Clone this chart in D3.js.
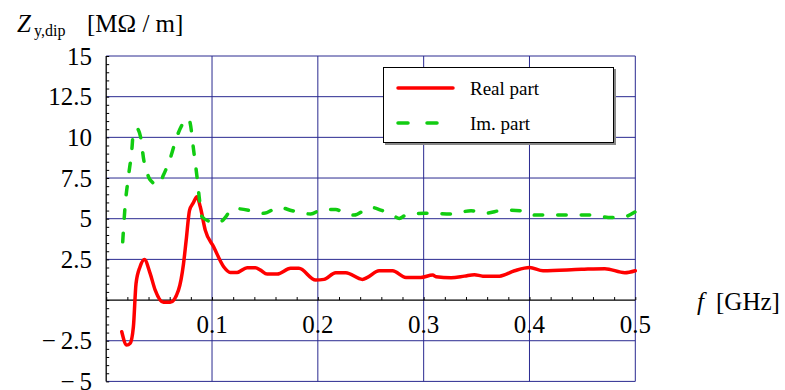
<!DOCTYPE html>
<html>
<head>
<meta charset="utf-8">
<script src="https://cdn.jsdelivr.net/npm/d3@7"></script>
<style>
  body { margin: 0; background: #fff; }
  svg text { font-family: "Liberation Serif", "Times New Roman", serif; fill: #000; }
</style>
</head>
<body>
<svg width="785" height="390"></svg>
<script>
// values
var realF = [0.0147, 0.0194, 0.0226, 0.0257, 0.0282, 0.032, 0.0361, 0.0415, 0.0463, 0.0541, 0.0605, 0.0683, 0.0731, 0.0756, 0.0788, 0.082, 0.0858, 0.0889, 0.0936, 0.1015, 0.111, 0.1173, 0.1237, 0.1332, 0.141, 0.1458, 0.1521, 0.1616, 0.1742, 0.1821, 0.1979, 0.2058, 0.2169, 0.2264, 0.2422, 0.2469, 0.2579, 0.2706, 0.2832, 0.2974, 0.3085, 0.3117, 0.3259, 0.3385, 0.348, 0.3559, 0.3717, 0.3859, 0.4001, 0.4128, 0.4491, 0.4712, 0.4901, 0.5]
var realV = [-1.95, -2.77, -2.66, -1.64, 1.02, 2.05, 2.5, 1.64, 0.61, -0.14, -0.14, 0.61, 2.25, 3.69, 5.53, 5.94, 6.35, 5.73, 4.3, 3.28, 2.05, 1.7, 1.7, 1.99, 1.99, 1.84, 1.6, 1.6, 1.95, 1.95, 1.23, 1.27, 1.68, 1.68, 1.27, 1.39, 1.8, 1.8, 1.39, 1.39, 1.54, 1.43, 1.37, 1.47, 1.56, 1.47, 1.47, 1.8, 2.0, 1.8, 1.89, 1.93, 1.68, 1.8]

var imF = [0.0156, 0.0178, 0.021, 0.0242, 0.0257, 0.0289, 0.0336, 0.0346, 0.0384, 0.0415, 0.0494, 0.0541, 0.0605, 0.0668, 0.0716, 0.0778, 0.0794, 0.0826, 0.0858, 0.0882, 0.0905, 0.0984, 0.1031, 0.1095, 0.1205, 0.141, 0.149, 0.1632, 0.1758, 0.1932, 0.2043, 0.2169, 0.2264, 0.2342, 0.25, 0.2595, 0.2721, 0.2769, 0.2832, 0.3006, 0.3259, 0.3448, 0.3574, 0.3764, 0.3954, 0.4048, 0.4301, 0.4617, 0.4744, 0.487, 0.4996]
var imV = [3.58, 5.73, 7.58, 9.22, 10.34, 10.55, 9.63, 9.02, 7.89, 7.38, 7.07, 7.68, 8.71, 10.04, 10.76, 11.17, 10.86, 9.22, 7.58, 6.15, 5.12, 4.81, 4.71, 4.87, 5.63, 5.43, 5.33, 5.7, 5.49, 5.29, 5.57, 5.57, 5.29, 5.22, 5.7, 5.53, 5.16, 5.02, 5.22, 5.33, 5.29, 5.49, 5.33, 5.53, 5.47, 5.22, 5.22, 5.22, 5.08, 5.08, 5.41]

var xTicks = [0.1, 0.2, 0.3, 0.4, 0.5]
var yTicks = [15, 12.5, 10, 7.5, 5, 2.5, -2.5, -5]
var seriesNames = ["Real part", "Im. part"]

var svg = d3.select("svg")

var xScale = d3.scaleLinear().domain([0, 0.5]).range([106.2, 635.3])
var yScale = d3.scaleLinear().domain([-5, 15]).range([381.4, 56])

var gridColor = "#2a2a90"

// grid lines
svg.append("g").selectAll("line")
    .data(yTicks)
    .enter()
    .append("line")
    .attr("x1", xScale(0))
    .attr("x2", xScale(0.5))
    .attr("y1", function(d) { return yScale(d) })
    .attr("y2", function(d) { return yScale(d) })
    .attr("stroke", gridColor)
    .attr("stroke-width", 1)

svg.append("g").selectAll("line")
    .data(xTicks)
    .enter()
    .append("line")
    .attr("x1", function(d) { return xScale(d) })
    .attr("x2", function(d) { return xScale(d) })
    .attr("y1", yScale(15))
    .attr("y2", yScale(-5))
    .attr("stroke", gridColor)
    .attr("stroke-width", 1)

// minor ticks
var yMinor = d3.range(-5, 15.01, 0.5)
var xMinor = d3.range(0, 0.5001, 0.02)

var yAxisG = svg.append("g")
    .attr("transform", "translate(" + xScale(0) + ",0)")
    .call(d3.axisLeft(yScale).tickValues(yMinor).tickSize(-3).tickFormat(""))
yAxisG.select(".domain").remove()
yAxisG.selectAll("line").attr("stroke", "#000")

var xAxisG = svg.append("g")
    .attr("transform", "translate(0," + yScale(0) + ")")
    .call(d3.axisBottom(xScale).tickValues(xMinor).tickSize(-3).tickFormat(""))
xAxisG.select(".domain").remove()
xAxisG.selectAll("line").attr("stroke", "#000")

// axis lines
svg.append("line")
    .attr("x1", xScale(0)).attr("x2", xScale(0))
    .attr("y1", yScale(15)).attr("y2", yScale(-5))
    .attr("stroke", "#000").attr("stroke-width", 1.3)
svg.append("line")
    .attr("x1", xScale(0)).attr("x2", xScale(0.5))
    .attr("y1", yScale(0)).attr("y2", yScale(0))
    .attr("stroke", "#000").attr("stroke-width", 1.3)

// tick labels
svg.append("g").selectAll("text")
    .data(yTicks)
    .enter()
    .append("text")
    .attr("x", 92)
    .attr("y", function(d) { return yScale(d) })
    .attr("dy", "0.35em")
    .attr("text-anchor", "end")
    .style("font-size", "25px")
    .text(function(d) { return d < 0 ? "\u2212\u2009" + Math.abs(d) : d })

svg.append("g").selectAll("text")
    .data(xTicks)
    .enter()
    .append("text")
    .attr("x", function(d) { return xScale(d) })
    .attr("y", yScale(0) + 33)
    .attr("text-anchor", "middle")
    .style("font-size", "25px")
    .text(function(d) { return d })

// axis titles
var title = svg.append("text").attr("y", 32).style("font-size", "25px")
title.append("tspan").attr("x", 17).style("font-style", "italic").text("Z")
title.append("tspan").attr("x", 34).attr("dy", 4).style("font-size", "16px").text("y,dip")
title.append("tspan").attr("x", 87).attr("dy", -4).text("[M\u03a9 / m]")

var xt = svg.append("text").attr("y", 310).style("font-size", "25px")
xt.append("tspan").attr("x", 697).style("font-style", "italic").text("f")
xt.append("tspan").attr("x", 716).text("[GHz]")

// curves
var line = d3.line()
    .x(function(d) { return xScale(d[0]) })
    .y(function(d) { return yScale(d[1]) })
    .curve(d3.curveMonotoneX)

svg.append("path")
    .datum(d3.zip(realF, realV))
    .attr("d", line)
    .attr("fill", "none")
    .attr("stroke", "#ff0000")
    .attr("stroke-width", 3.5)
    .attr("stroke-linejoin", "round")
    .attr("stroke-linecap", "round")

svg.append("path")
    .datum(d3.zip(imF, imV))
    .attr("d", line)
    .attr("fill", "none")
    .attr("stroke", "#11cc11")
    .attr("stroke-width", 3.5)
    .attr("stroke-linecap", "round")
    .attr("stroke-dasharray", "8.5,15")

// legend
var legend = svg.append("g")
legend.append("rect")
    .attr("x", 385).attr("y", 69).attr("width", 231).attr("height", 76)
    .attr("fill", "#888")
legend.append("rect")
    .attr("x", 383.5).attr("y", 67.5).attr("width", 230).attr("height", 75)
    .attr("fill", "#fff").attr("stroke", "#000").attr("stroke-width", 1)

var legendColors = ["#ff0000", "#11cc11"]
var lg = legend.selectAll("g.item")
    .data(seriesNames)
    .enter()
    .append("g")
    .attr("class", "item")
    .attr("transform", function(d, i) { return "translate(0," + (88 + i * 35) + ")" })

lg.append("line")
    .attr("x1", 398).attr("x2", 453).attr("y1", 0).attr("y2", 0)
    .attr("stroke", function(d, i) { return legendColors[i] })
    .attr("stroke-width", 3.5)
    .attr("stroke-linecap", "round")
    .attr("stroke-dasharray", function(d, i) { return i == 1 ? "10,19" : null })

lg.append("text")
    .attr("x", 470).attr("y", 7)
    .style("font-size", "19px")
    .text(function(d) { return d })
</script>
</body>
</html>
